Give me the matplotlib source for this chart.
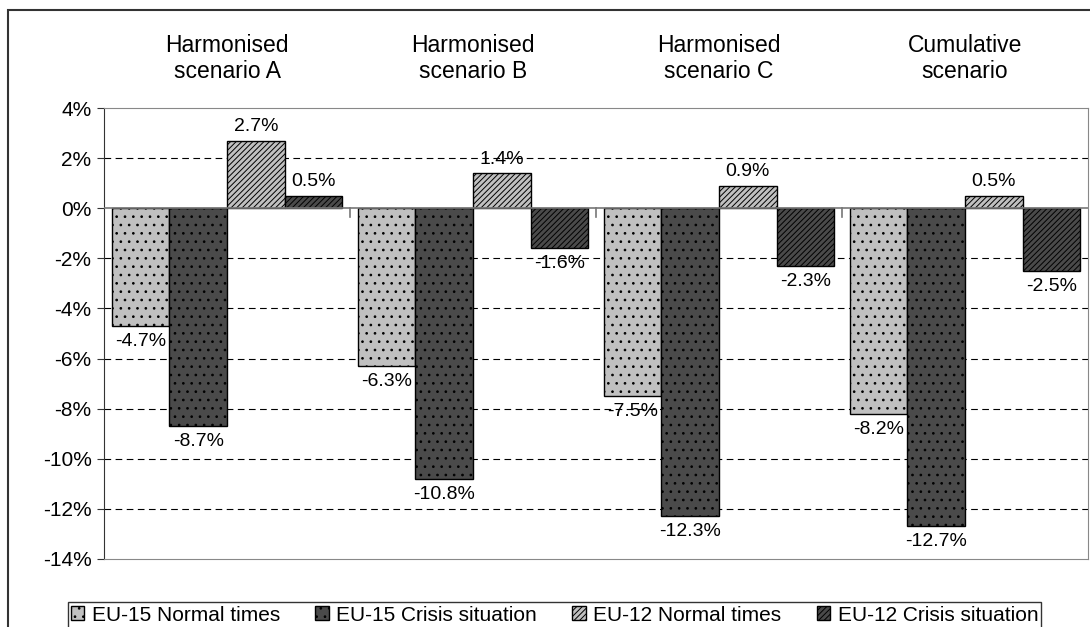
import numpy as np
import matplotlib
matplotlib.use("Agg")
import matplotlib.pyplot as plt
from matplotlib.patches import Rectangle
from matplotlib.ticker import FuncFormatter

plt.rcParams['font.family'] = ['Liberation Sans', 'DejaVu Sans']
plt.rcParams['hatch.linewidth'] = 0.7

# data
scenarios = ["Harmonised\nscenario A", "Harmonised\nscenario B",
             "Harmonised\nscenario C", "Cumulative\nscenario"]
series = ["EU-15 Normal times", "EU-15 Crisis situation",
          "EU-12 Normal times", "EU-12 Crisis situation"]
eu15_normal = [-4.7, -6.3, -7.5, -8.2]
eu15_crisis = [-8.7, -10.8, -12.3, -12.7]
eu12_normal = [2.7, 1.4, 0.9, 0.5]
eu12_crisis = [0.5, -1.6, -2.3, -2.5]
values = [eu15_normal, eu15_crisis, eu12_normal, eu12_crisis]

colors = ["#c0c0c0", "#4a4a4a", "#c0c0c0", "#4a4a4a"]
hatches = ["..", "..", "//////", "//////"]

W, H = 1090, 627
fig = plt.figure(figsize=(W / 100, H / 100), dpi=100)
ax = fig.add_axes([104 / W, (H - 559) / H, 984 / W, 451 / H])

# outer chart frame
fig.patches.append(Rectangle((8 / W, -0.1), 1.2, 1.1 - 10 / H, transform=fig.transFigure,
                             fill=False, edgecolor="#333333", lw=1.5))

x = np.arange(len(scenarios))
bw = 0.234
offsets = (np.arange(4) - 1.5) * bw
for i in range(4):
    bars = ax.bar(x + offsets[i], values[i], bw, color=colors[i], edgecolor="black",
                  hatch=hatches[i], linewidth=1.0, label=series[i], zorder=3)
    for b, v in zip(bars, values[i]):
        xc = b.get_x() + b.get_width() / 2
        if v >= 0:
            ax.annotate(f"{v:.1f}%", (xc, v), xytext=(0, 4), textcoords="offset points",
                        ha="center", va="bottom", fontsize=14)
        else:
            ax.annotate(f"{v:.1f}%", (xc, v), xytext=(0, -5), textcoords="offset points",
                        ha="center", va="top", fontsize=14)

ax.set_xlim(-0.5, 3.5)
ax.set_ylim(-14, 4)
ax.set_yticks(np.arange(-14, 5, 2))
ax.yaxis.set_major_formatter(FuncFormatter(lambda v, p: f"{v:.0f}%"))
ax.tick_params(axis="y", labelsize=15, length=5, color="#333333", pad=4)
ax.set_xticks([])

for yv in np.arange(-12, 4, 2):
    if yv != 0:
        ax.axhline(yv, color="black", lw=0.8, ls=(0, (6, 4)), zorder=1)
ax.axhline(0, color="#777777", lw=1.2, zorder=4)
# group boundary ticks on the zero line
for xb in [0.5, 1.5, 2.5]:
    ax.plot([xb, xb], [0, -0.35], color="#777777", lw=1.2, zorder=4, clip_on=False)

for s in ["top", "right", "bottom"]:
    ax.spines[s].set_color("#888888")
ax.spines["left"].set_color("#333333")

# category titles above plot
for xi, lab in zip(x, scenarios):
    ax.text(xi, 1.055, lab, transform=ax.get_xaxis_transform(), ha="center", va="bottom",
            fontsize=16.5, linespacing=1.2)

leg = fig.legend(loc="upper center", bbox_to_anchor=(554.5 / W, 1 - 592 / H),
                 ncol=4, fontsize=15, frameon=True, fancybox=False,
                 edgecolor="black", handlelength=0.65, handleheight=0.65,
                 handletextpad=0.35, columnspacing=1.7, borderpad=0.15)
leg.get_frame().set_linewidth(1.0)

fig.savefig("out.png", dpi=100)
